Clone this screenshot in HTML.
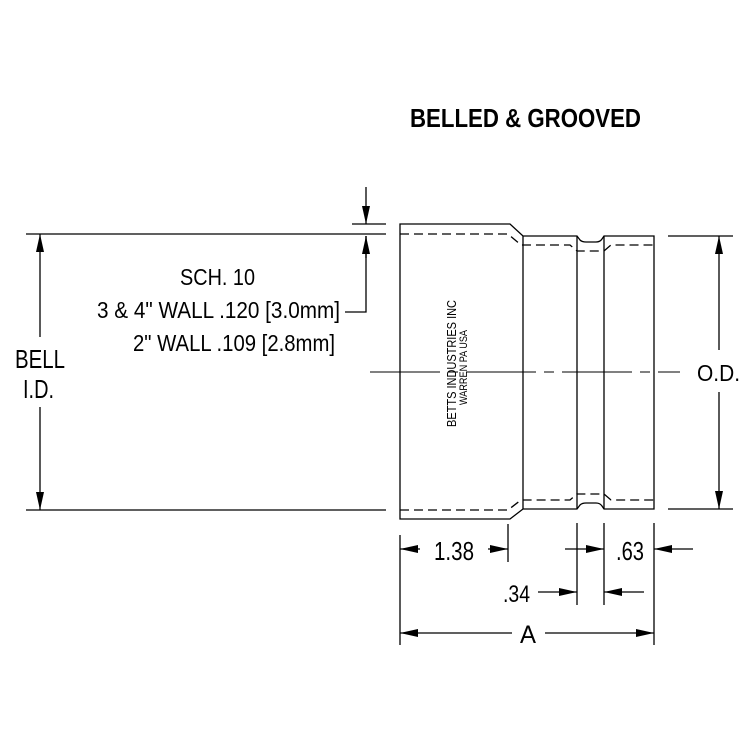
<!DOCTYPE html>
<html><head><meta charset="utf-8"><style>html,body{margin:0;padding:0;background:#fff}svg{display:block}</style></head>
<body>
<svg width="748" height="748" viewBox="0 0 748 748" xmlns="http://www.w3.org/2000/svg" font-family="Liberation Sans, sans-serif">
<defs>
<marker id="a" viewBox="0 0 18 8" refX="18" refY="4" markerWidth="18" markerHeight="8" markerUnits="userSpaceOnUse" orient="auto"><path d="M0,0 L18,4 L0,8 z" fill="#000"/></marker>
</defs>
<g stroke="#000" stroke-width="1.3" fill="none">
<path d="M400,519 L400,224 L510,224 L523,236 L577,236 L580,240 Q582,242 586,242 L596,242 Q600,242 602,239 L604,236 L654,236 L654,509 L604,509 L602,506 Q600,503 596,503 L586,503 Q582,503 580,505 L577,509 L523,509 L510,519 Z"/>
<line x1="523" y1="236" x2="523" y2="509"/>
<line x1="577" y1="236" x2="577" y2="509"/>
<line x1="604" y1="236" x2="604" y2="509"/>
<path stroke-dasharray="9,5" d="M400,234 L508,234 L521,245 L570,245 L577,251 L604,251 L611,245 L654,245"/>
<path stroke-dasharray="9,5" d="M400,510 L508,510 L521,500 L570,500 L577,494 L604,494 L611,500 L654,500"/>
<path stroke-width="1" stroke-dasharray="70,8,10,8" d="M370,372 L680,372"/>
<line x1="26" y1="234" x2="386" y2="234"/>
<line x1="26" y1="510" x2="386" y2="510"/>
<line x1="352" y1="224" x2="386" y2="224"/>
<line x1="668" y1="236" x2="733" y2="236"/>
<line x1="668" y1="509" x2="733" y2="509"/>
<line x1="400" y1="535" x2="400" y2="645"/>
<line x1="508" y1="524" x2="508" y2="562"/>
<line x1="577" y1="523" x2="577" y2="605"/>
<line x1="604" y1="523" x2="604" y2="605"/>
<line x1="654" y1="523" x2="654" y2="645"/>
<line x1="40" y1="337" x2="40" y2="234" marker-end="url(#a)"/>
<line x1="40" y1="407" x2="40" y2="510" marker-end="url(#a)"/>
<line x1="719" y1="350" x2="719" y2="236" marker-end="url(#a)"/>
<line x1="719" y1="392" x2="719" y2="509" marker-end="url(#a)"/>
<line x1="366" y1="187" x2="366" y2="224" marker-end="url(#a)"/>
<path d="M345,312 L366,312 L366,236"/>
<line x1="366" y1="258" x2="366" y2="236" marker-end="url(#a)"/>
<line x1="420" y1="549" x2="400" y2="549" marker-end="url(#a)"/>
<line x1="488" y1="549" x2="508" y2="549" marker-end="url(#a)"/>
<line x1="565" y1="549" x2="604" y2="549" marker-end="url(#a)"/>
<line x1="693" y1="549" x2="654" y2="549" marker-end="url(#a)"/>
<line x1="538" y1="592" x2="577" y2="592" marker-end="url(#a)"/>
<line x1="644" y1="592" x2="604" y2="592" marker-end="url(#a)"/>
<line x1="512" y1="633" x2="400" y2="633" marker-end="url(#a)"/>
<line x1="545" y1="633" x2="654" y2="633" marker-end="url(#a)"/>
</g>
<g fill="#000">
<text x="410" y="127" font-weight="bold" font-size="26" textLength="231" lengthAdjust="spacingAndGlyphs">BELLED &amp; GROOVED</text>
<text x="180" y="285" font-size="23" textLength="75" lengthAdjust="spacingAndGlyphs">SCH. 10</text>
<text x="97" y="318" font-size="23" textLength="243" lengthAdjust="spacingAndGlyphs">3 &amp; 4" WALL .120 [3.0mm]</text>
<text x="133" y="351" font-size="23" textLength="202" lengthAdjust="spacingAndGlyphs">2" WALL .109 [2.8mm]</text>
<text x="15" y="368" font-size="26" textLength="50" lengthAdjust="spacingAndGlyphs">BELL</text>
<text x="23" y="398" font-size="26" textLength="31" lengthAdjust="spacingAndGlyphs">I.D.</text>
<text x="697" y="381" font-size="23" textLength="43" lengthAdjust="spacingAndGlyphs">O.D.</text>
<text x="434" y="560" font-size="26" textLength="40" lengthAdjust="spacingAndGlyphs">1.38</text>
<text x="616" y="560" font-size="26" textLength="28" lengthAdjust="spacingAndGlyphs">.63</text>
<text x="503" y="602" font-size="24" textLength="27" lengthAdjust="spacingAndGlyphs">.34</text>
<text x="520" y="643" font-size="25" textLength="16" lengthAdjust="spacingAndGlyphs">A</text>
<text transform="translate(456,427) rotate(-90)" font-size="13" textLength="127" lengthAdjust="spacingAndGlyphs">BETTS INDUSTRIES INC</text>
<text transform="translate(467,405) rotate(-90)" font-size="11" textLength="75" lengthAdjust="spacingAndGlyphs">WARREN PA USA</text>
</g>
</svg>
</body></html>
